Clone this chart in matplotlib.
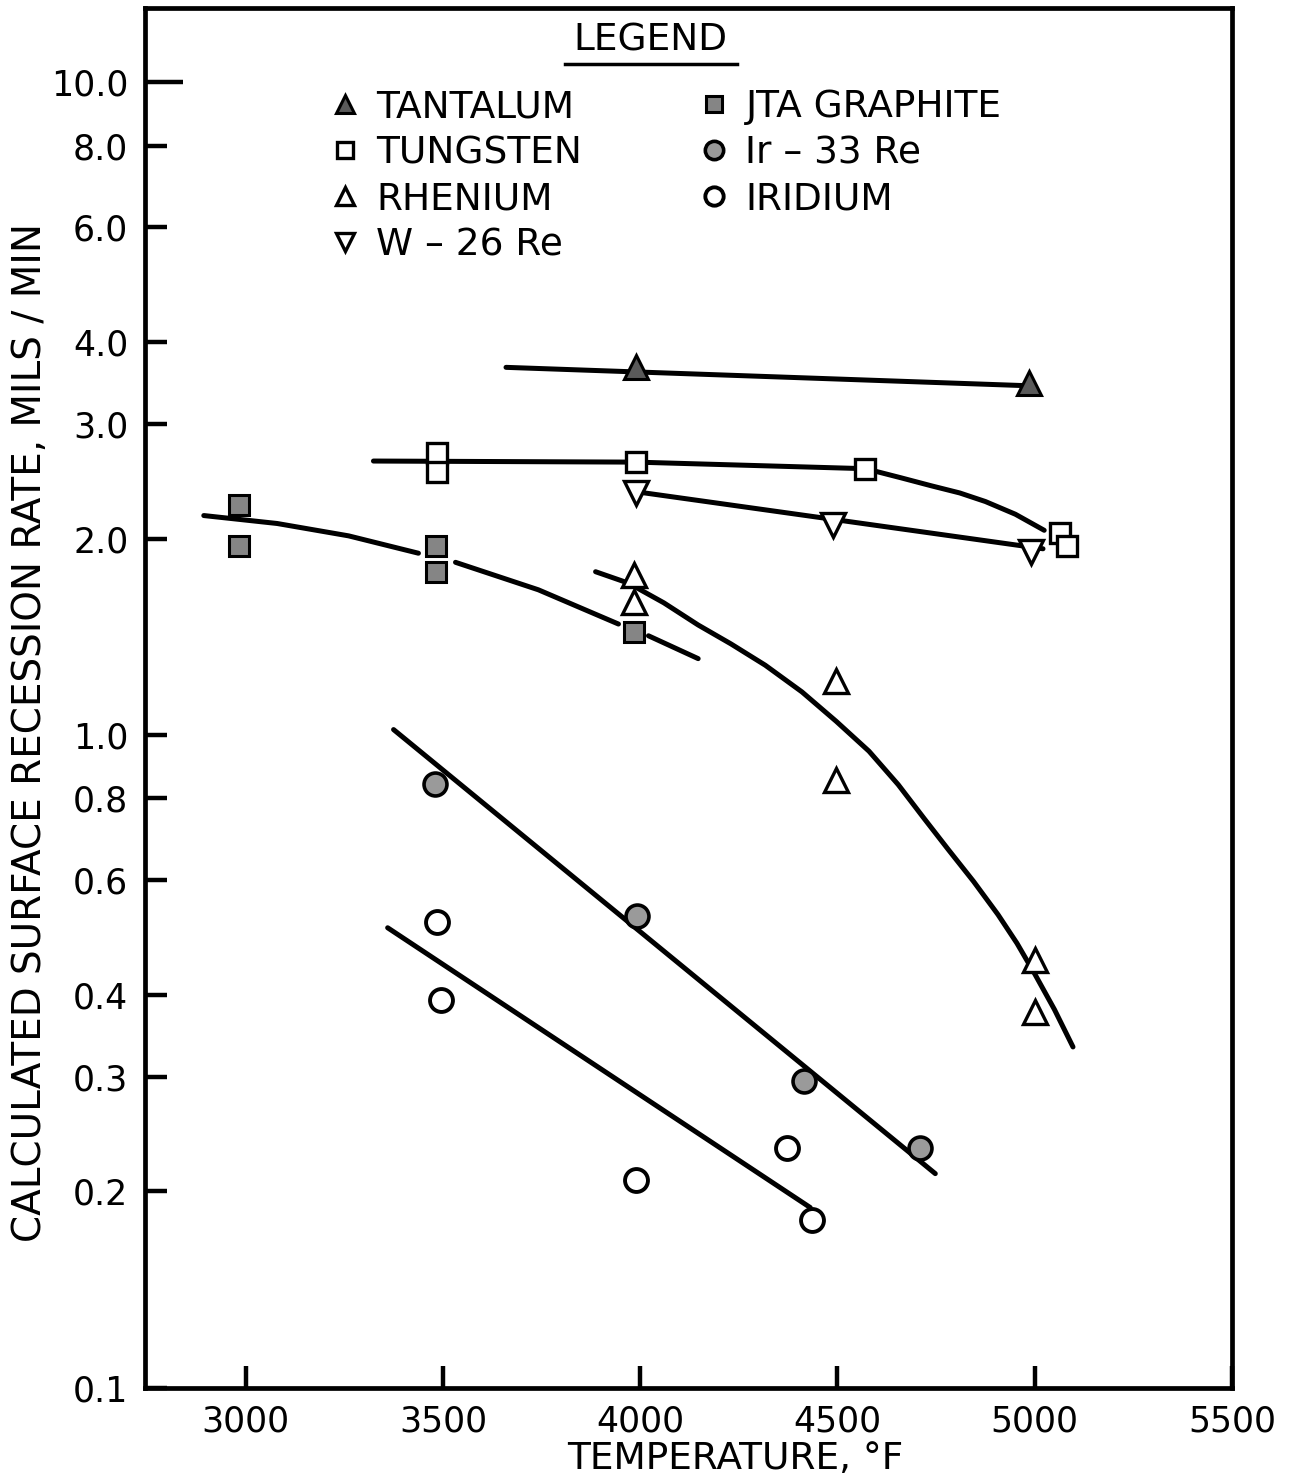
import numpy as np
import matplotlib.pyplot as plt
from matplotlib.ticker import NullLocator

plt.rcParams["font.family"] = ["DejaVu Sans"]

# marker data (temperature F, recession rate mils/min)
ta_t = [3990, 4985]
ta_r = [3.66, 3.46]
w_t = [3485, 3485, 3990, 4570, 5065, 5082]
w_r = [2.71, 2.53, 2.62, 2.56, 2.04, 1.95]
re_t = [3985, 3985, 4497, 4497, 5000, 5000]
re_r = [1.76, 1.60, 1.21, 0.855, 0.453, 0.377]
w26_t = [3990, 4490, 4990]
w26_r = [2.35, 2.10, 1.91]
jta_t = [2982, 2982, 3482, 3482, 3985]
jta_r = [2.25, 1.95, 1.95, 1.78, 1.44]
ir33_t = [3480, 3993, 4416, 4710]
ir33_r = [0.843, 0.529, 0.295, 0.233]
ir_t = [3485, 3496, 3990, 4373, 4436]
ir_r = [0.518, 0.393, 0.208, 0.233, 0.181]

# hand drawn fit lines
ta_fit_t = [3660, 4983]
ta_fit_r = [3.66, 3.43]
w_fit_t = [3324, 3990, 4571, 4660, 4738, 4810, 4875, 4951, 5024]
w_fit_r = [2.63, 2.62, 2.56, 2.48, 2.41, 2.35, 2.28, 2.18, 2.06]
w26_fit_t = [3990, 5021]
w26_fit_r = [2.36, 1.93]
re_fit_t = [3887, 3970, 4060, 4147, 4230, 4317, 4410, 4497, 4580, 4654,
            4720, 4781, 4845, 4907, 4955, 4999, 5050, 5097]
re_fit_r = [1.78, 1.71, 1.595, 1.475, 1.38, 1.28, 1.165, 1.05, 0.945, 0.84,
            0.745, 0.668, 0.597, 0.531, 0.48, 0.432, 0.38, 0.333]
jta_fit1_t = [2894, 3080, 3261, 3438]
jta_fit1_r = [2.17, 2.11, 2.02, 1.90]
jta_fit2_t = [3532, 3742, 3945]
jta_fit2_r = [1.84, 1.67, 1.48]
jta_fit3_t = [4021, 4147]
jta_fit3_r = [1.42, 1.31]
ir33_fit_t = [3375, 4748]
ir33_fit_r = [1.02, 0.213]
ir_fit_t = [3360, 4431]
ir_fit_r = [0.507, 0.189]

yticks = [10.0, 8.0, 6.0, 4.0, 3.0, 2.0, 1.0, 0.8, 0.6, 0.4, 0.3, 0.2, 0.1]
ytick_labels = ["10.0", "8.0", "6.0", "4.0", "3.0", "2.0", "1.0",
                "0.8", "0.6", "0.4", "0.3", "0.2", "0.1"]
xticks = [3000, 3500, 4000, 4500, 5000, 5500]

W, H = 1305, 1479
fig = plt.figure(figsize=(W / 100, H / 100), dpi=100)
ax = fig.add_axes([145 / W, 1 - 1388 / H, (1232 - 145) / W, (1388 - 8) / H])
ax.set_yscale("log")
ax.set_xlim(2745, 5500)
ax.set_ylim(0.1, 13.0)

lw = 3.6
for t, r in [(ta_fit_t, ta_fit_r), (w_fit_t, w_fit_r), (w26_fit_t, w26_fit_r),
             (re_fit_t, re_fit_r), (jta_fit1_t, jta_fit1_r), (jta_fit2_t, jta_fit2_r),
             (jta_fit3_t, jta_fit3_r), (ir33_fit_t, ir33_fit_r), (ir_fit_t, ir_fit_r)]:
    ax.plot(t, r, color="black", lw=lw, solid_capstyle="round",
            solid_joinstyle="round", zorder=2)

mk = dict(linestyle="none", markeredgecolor="black", zorder=3)
ax.plot(ta_t, ta_r, marker="^", ms=17, mfc="#5a5a5a", mew=2.2, label="TANTALUM", **mk)
ax.plot(w_t, w_r, marker="s", ms=14.5, mfc="white", mew=2.4, label="TUNGSTEN", **mk)
ax.plot(re_t, re_r, marker="^", ms=17, mfc="white", mew=2.4, label="RHENIUM", **mk)
ax.plot(w26_t, w26_r, marker="v", ms=17, mfc="white", mew=2.4, label="W – 26 Re", **mk)
ax.plot(jta_t, jta_r, marker="s", ms=14.5, mfc="#858585", mew=2.2, label="JTA GRAPHITE", **mk)
ax.plot(ir33_t, ir33_r, marker="o", ms=16.5, mfc="#9a9a9a", mew=2.6, label="Ir – 33 Re", **mk)
ax.plot(ir_t, ir_r, marker="o", ms=16.5, mfc="white", mew=2.8, label="IRIDIUM", **mk)

ax.set_yticks(yticks)
ax.set_yticklabels(ytick_labels)
ax.yaxis.set_minor_locator(NullLocator())
ax.set_xticks(xticks)
ax.set_xticklabels([str(x) for x in xticks])
ax.tick_params(direction="in", length=16, width=3.2, labelsize=25, pad=12,
               top=False, right=False)
ax.yaxis.get_major_ticks()[0].tick1line.set_markersize(27)

for s in ax.spines.values():
    s.set_linewidth(3.4)

leg = ax.legend(ncol=2, loc="upper left", bbox_to_anchor=(0.156, 0.952),
                frameon=False, fontsize=27, handlelength=0.8, handletextpad=0.45,
                labelspacing=0.27, columnspacing=3.1, markerscale=0.8,
                borderaxespad=0)

ax.text(0.4646, 0.9765, "LEGEND", transform=ax.transAxes, ha="center", va="center",
        fontsize=27)
ax.plot([0.386, 0.545], [0.9595, 0.9595], transform=ax.transAxes, color="black",
        lw=2.5, clip_on=False)

fig.text(30 / W, 1 - 732 / H, "CALCULATED SURFACE RECESSION RATE, MILS / MIN",
         rotation=90, ha="center", va="center", fontsize=28)
fig.text(735 / W, 1 - 1459 / H, "TEMPERATURE, °F", ha="center", va="center",
         fontsize=27)

fig.savefig("out.png", dpi=100, facecolor="white")
